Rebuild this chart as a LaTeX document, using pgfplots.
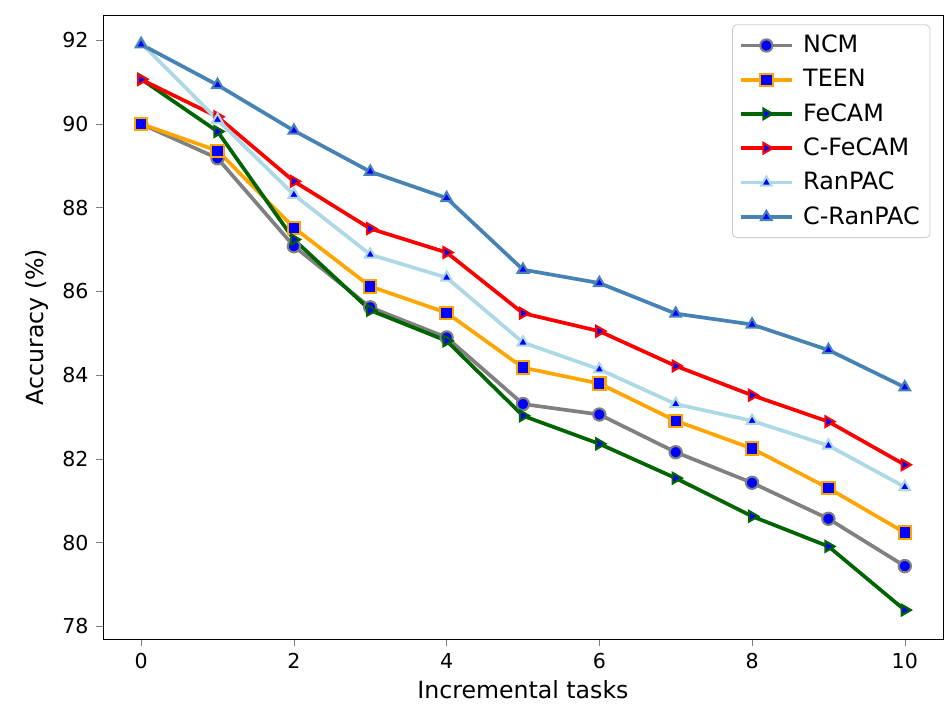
\documentclass[border=0pt]{standalone}
\usepackage{pgfplots}
\pgfplotsset{compat=1.18}
\usepackage{fontspec}
\setmainfont{DejaVu Sans}
\definecolor{ncm}{RGB}{128,128,128}
\definecolor{teen}{RGB}{255,165,0}
\definecolor{fecam}{RGB}{0,100,0}
\definecolor{cfecam}{RGB}{255,0,0}
\definecolor{ranpac}{RGB}{173,216,230}
\definecolor{cranpac}{RGB}{70,130,180}
\begin{document}
\begin{tikzpicture}
\useasboundingbox (-49.9bp,-34.9bp) rectangle (410.9bp,309.6bp);
\begin{axis}[
  scale only axis,
  width=407bp, height=302.3bp,
  xmin=-0.5, xmax=10.5,
  ymin=77.7, ymax=92.6,
  xtick={0,2,4,6,8,10},
  ytick={78,80,82,84,86,88,90,92},
  tick align=outside,
  tick pos=left,
  major tick length=3.5pt,
  /pgf/number format/assume math mode=true,
  ticklabel style={font=\fontsize{10}{12}\selectfont},
  label style={font=\fontsize{11.5}{13}\selectfont},
  xlabel={Incremental tasks},
  ylabel={Accuracy (\%)},
  xlabel style={yshift=1pt},
  legend pos=north east,
  legend cell align=left,
  legend style={font=\fontsize{11.6}{13}\selectfont, draw=black!20, rounded corners=2pt, inner sep=3pt, row sep=2.6pt, column sep=2.5pt, at={(0.985,0.985)}},
  legend image code/.code={\draw[mark repeat=2,mark phase=2] plot coordinates {(0cm,0cm) (0.44cm,0cm) (0.88cm,0cm)};},
  every axis plot/.append style={line width=1.8pt, mark size=3pt},
]
\addplot[color=ncm, mark=*, mark options={fill=blue, draw=ncm, line width=1pt}] coordinates {
(0,90.0) (1,89.18) (2,87.08) (3,85.62) (4,84.9) (5,83.31) (6,83.06) (7,82.16) (8,81.43) (9,80.57) (10,79.44)};
\addlegendentry{NCM}
\addplot[color=teen, mark=square*, mark options={fill=blue, draw=teen, line width=1pt}] coordinates {
(0,90.0) (1,89.36) (2,87.52) (3,86.12) (4,85.49) (5,84.18) (6,83.8) (7,82.91) (8,82.25) (9,81.3) (10,80.24)};
\addlegendentry{TEEN}
\addplot[color=fecam, mark=triangle*, mark options={fill=blue, draw=fecam, line width=1pt, rotate=-90}] coordinates {
(0,91.07) (1,89.82) (2,87.24) (3,85.55) (4,84.82) (5,83.03) (6,82.36) (7,81.54) (8,80.63) (9,79.91) (10,78.39)};
\addlegendentry{FeCAM}
\addplot[color=cfecam, mark=triangle*, mark options={fill=blue, draw=cfecam, line width=1pt, rotate=-90}] coordinates {
(0,91.06) (1,90.17) (2,88.63) (3,87.5) (4,86.93) (5,85.48) (6,85.05) (7,84.22) (8,83.52) (9,82.89) (10,81.86)};
\addlegendentry{C-FeCAM}
\addplot[color=ranpac, mark=triangle*, mark options={fill=blue, draw=ranpac, line width=1pt}] coordinates {
(0,91.93) (1,90.1) (2,88.31) (3,86.88) (4,86.33) (5,84.78) (6,84.14) (7,83.31) (8,82.91) (9,82.32) (10,81.33)};
\addlegendentry{RanPAC}
\addplot[color=cranpac, mark=triangle*, mark options={fill=blue, draw=cranpac, line width=1pt}] coordinates {
(0,91.9) (1,90.93) (2,89.84) (3,88.86) (4,88.23) (5,86.52) (6,86.2) (7,85.47) (8,85.21) (9,84.6) (10,83.71)};
\addlegendentry{C-RanPAC}
\end{axis}
\end{tikzpicture}
\end{document}
